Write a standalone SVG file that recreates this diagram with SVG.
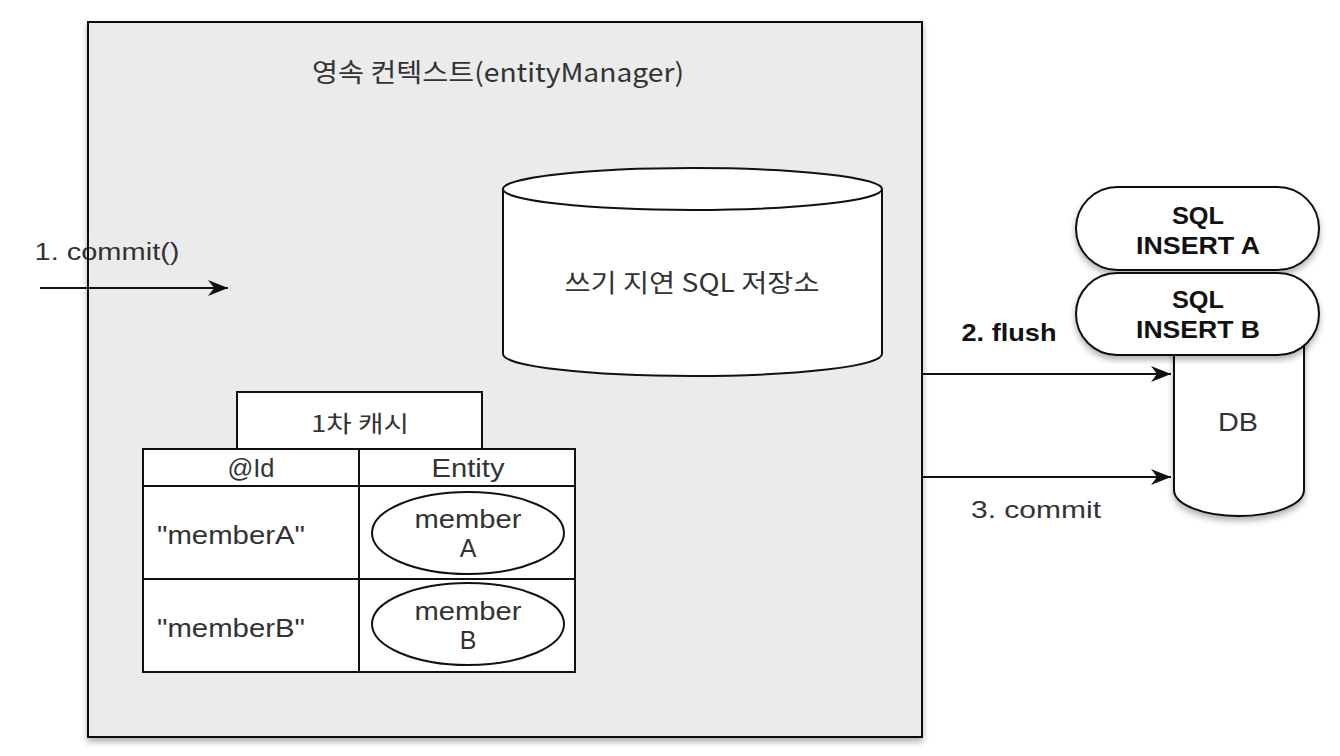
<svg xmlns="http://www.w3.org/2000/svg" width="1340" height="756" viewBox="0 0 1340 756">
<style>
.ln{stroke:#111;stroke-width:2;fill:#fff}
.t{font-family:"Liberation Sans","Noto Sans CJK KR",sans-serif;fill:#333;text-anchor:middle}
.k{font-family:"Noto Sans CJK KR","Liberation Sans",sans-serif;fill:#333;text-anchor:middle}
.b{font-family:"Liberation Sans",sans-serif;font-weight:bold;fill:#111;text-anchor:middle}
.conn{stroke:#111;stroke-width:2;fill:none}
</style>
<defs>
<filter id="sh" x="-5%" y="-5%" width="110%" height="115%">
<feDropShadow dx="0" dy="4" stdDeviation="3" flood-color="#000" flood-opacity="0.3"/>
</filter>
<marker id="ah" markerUnits="userSpaceOnUse" markerWidth="26" markerHeight="20" refX="22" refY="10" orient="auto">
<path d="M22,10 L2,2 L8,10 L2,18 Z" fill="#111"/>
</marker>
</defs>
<rect width="1340" height="756" fill="#fff"/>

<g id="context">
<rect x="88" y="22" width="834" height="715" fill="#ebebeb" stroke="#111" stroke-width="2" filter="url(#sh)"/>
<text class="k" x="498" y="82" font-size="26" textLength="372" lengthAdjust="spacingAndGlyphs">영속 컨텍스트(entityManager)</text>
</g>

<g id="sql-store">
<path class="ln" d="M503,189 L503,354 A189.5,22 0 0 0 882,354 L882,189"/>
<ellipse class="ln" cx="692.5" cy="189" rx="189.5" ry="21"/>
<text class="k" x="692" y="292" font-size="25" textLength="255" lengthAdjust="spacingAndGlyphs">쓰기 지연 SQL 저장소</text>
</g>

<g id="cache">
<rect class="ln" x="237" y="392" width="245" height="57"/>
<text class="k" x="360" y="432" font-size="23" textLength="98" lengthAdjust="spacingAndGlyphs">1차 캐시</text>
<rect class="ln" x="143" y="449" width="432" height="223"/>
<line class="conn" x1="143" y1="486" x2="575" y2="486"/>
<line class="conn" x1="143" y1="579" x2="575" y2="579"/>
<line class="conn" x1="359" y1="449" x2="359" y2="672"/>
<text class="t" x="251" y="477" font-size="25" textLength="47" lengthAdjust="spacingAndGlyphs">@Id</text>
<text class="t" x="468" y="477" font-size="25" textLength="73" lengthAdjust="spacingAndGlyphs">Entity</text>
<text class="t" x="231" y="544" font-size="25" textLength="148" lengthAdjust="spacingAndGlyphs">"memberA"</text>
<text class="t" x="231" y="637" font-size="25" textLength="148" lengthAdjust="spacingAndGlyphs">"memberB"</text>
</g>

<g id="memberA">
<ellipse class="ln" cx="468" cy="533" rx="96" ry="41"/>
<text class="t" x="468" y="528" font-size="25" textLength="107" lengthAdjust="spacingAndGlyphs">member</text>
<text class="t" x="468" y="557" font-size="25">A</text>
</g>

<g id="memberB">
<ellipse class="ln" cx="468" cy="624" rx="96" ry="41"/>
<text class="t" x="468" y="620" font-size="25" textLength="107" lengthAdjust="spacingAndGlyphs">member</text>
<text class="t" x="468" y="649" font-size="25">B</text>
</g>

<g id="db">
<path class="ln" d="M1174,330 L1174,490 A65,26 0 0 0 1304,490 L1304,330 Z" filter="url(#sh)"/>
<text class="t" x="1238" y="431" font-size="25" textLength="40" lengthAdjust="spacingAndGlyphs">DB</text>
</g>

<g id="insertA">
<rect class="ln" x="1076" y="187" width="243" height="83" rx="41.5" ry="41.5" filter="url(#sh)"/>
<text class="b" x="1198" y="224" font-size="24" textLength="52" lengthAdjust="spacingAndGlyphs">SQL</text>
<text class="b" x="1198" y="254" font-size="24" textLength="124" lengthAdjust="spacingAndGlyphs">INSERT A</text>
</g>

<g id="insertB">
<rect class="ln" x="1076" y="273" width="243" height="82" rx="41" ry="41" filter="url(#sh)"/>
<text class="b" x="1198" y="308" font-size="24" textLength="52" lengthAdjust="spacingAndGlyphs">SQL</text>
<text class="b" x="1198" y="338" font-size="24" textLength="124" lengthAdjust="spacingAndGlyphs">INSERT B</text>
</g>

<g id="connectors">
<line class="conn" x1="40" y1="288" x2="228" y2="288" marker-end="url(#ah)"/>
<line class="conn" x1="922" y1="374" x2="1171" y2="374" marker-end="url(#ah)"/>
<line class="conn" x1="922" y1="477" x2="1171" y2="477" marker-end="url(#ah)"/>
</g>

<g id="labels">
<text class="t" x="107" y="260" font-size="23" textLength="145" lengthAdjust="spacingAndGlyphs">1. commit()</text>
<line x1="88" y1="230" x2="88" y2="280" stroke="#111" stroke-width="2"/>
<text class="b" x="1009" y="341" font-size="24" textLength="95" lengthAdjust="spacingAndGlyphs">2. flush</text>
<text class="t" x="1036" y="518" font-size="24" textLength="130" lengthAdjust="spacingAndGlyphs">3. commit</text>
</g>
</svg>
